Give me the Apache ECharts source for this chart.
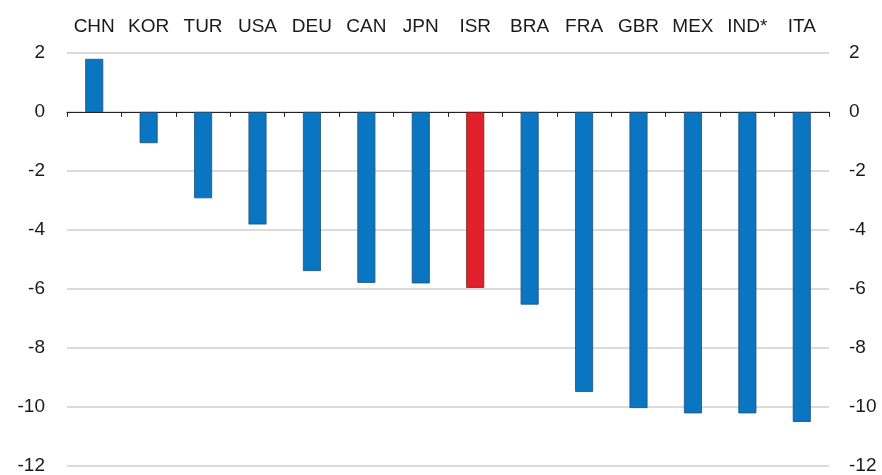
<!DOCTYPE html>
<html>
<head>
<meta charset="utf-8">
<script src="https://cdn.jsdelivr.net/npm/echarts@6/dist/echarts.min.js"></script>
<style>
html,body{margin:0;padding:0;background:#fff;}
#chart{width:882px;height:475px;}
</style>
</head>
<body>
<div id="chart"></div>
<script>
var categories = ['CHN','KOR','TUR','USA','DEU','CAN','JPN','ISR','BRA','FRA','GBR','MEX','IND*','ITA'];
var values = [1.80,-1.06,-2.93,-3.82,-5.40,-5.80,-5.82,-5.97,-6.54,-9.50,-10.05,-10.23,-10.23,-10.52];
var highlight = 'ISR';
var yTicks = {min:-12, max:2, interval:2};

var chart = echarts.init(document.getElementById('chart'), null, {renderer:'canvas'});
var font = '"Liberation Sans", Arial, sans-serif';
var data = values.map(function(v,i){
  var isH = categories[i] === highlight;
  return {value:v, itemStyle:{color: isH ? '#e0202b' : '#0a76c2', borderColor: isH ? '#7a1a1a' : '#1d4f78'}};
});
chart.setOption({
  animation:false,
  grid:{left:67, right:53, top:53, bottom:8.5, containLabel:false},
  xAxis:[
    {type:'category', data:categories, position:'bottom',
     axisLine:{onZero:true, lineStyle:{color:'#222', width:1.2}},
     axisTick:{show:true, length:5, inside:false, lineStyle:{color:'#222'}},
     axisLabel:{show:false}, splitLine:{show:false}},
    {type:'category', data:categories, position:'top',
     axisLine:{show:false}, axisTick:{show:false},
     axisLabel:{show:true, interval:0, margin:17, color:'#1a1a1a', fontSize:19, fontFamily:font},
     splitLine:{show:false}}
  ],
  yAxis:[
    {type:'value', min:yTicks.min, max:yTicks.max, interval:yTicks.interval, position:'left',
     axisLine:{show:false}, axisTick:{show:false},
     axisLabel:{margin:22, color:'#1a1a1a', fontSize:19, fontFamily:font},
     splitLine:{show:true, lineStyle:{color:'#cfcfcf', width:1.5}}},
    {type:'value', min:yTicks.min, max:yTicks.max, interval:yTicks.interval, position:'right',
     axisLine:{show:false}, axisTick:{show:false},
     axisLabel:{margin:20, color:'#1a1a1a', fontSize:19, fontFamily:font},
     splitLine:{show:false}}
  ],
  series:[{type:'bar', xAxisIndex:0, yAxisIndex:0, data:data, barWidth:18,
    itemStyle:{borderWidth:0.8}}]
});
</script>
</body>
</html>
